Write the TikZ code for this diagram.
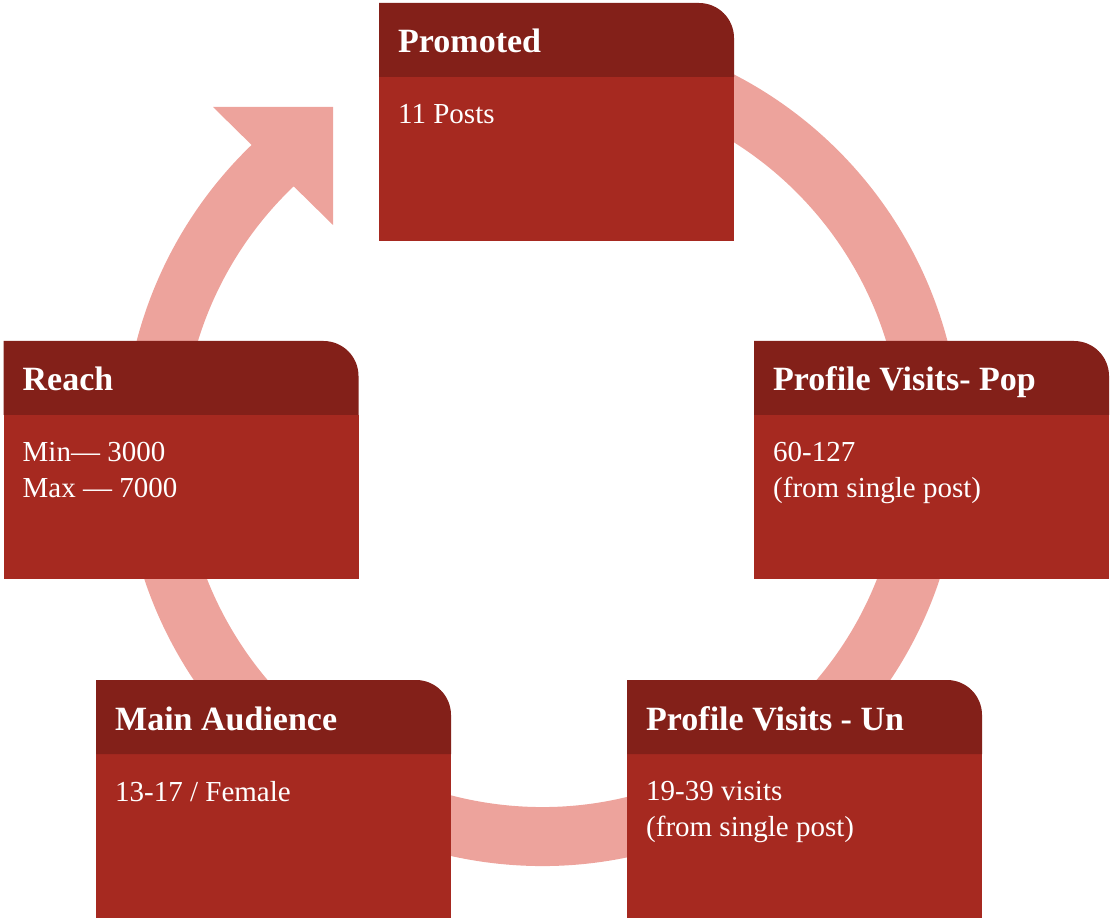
\documentclass[tikz,border=0pt]{standalone}
\usepackage{fontspec}
\setmainfont{Liberation Serif}
\definecolor{ringc}{RGB}{237,163,156}
\definecolor{headc}{RGB}{131,32,25}
\definecolor{bodyc}{RGB}{166,41,32}
\tikzset{
  headtext/.style={text=white,anchor=base west,inner sep=0pt,font=\bfseries\fontsize{34}{40}\selectfont},
  bodytext/.style={text=white,anchor=north west,inner sep=0pt,align=left,font=\fontsize{29}{35.7}\selectfont},
  ringstroke/.style={draw=ringc,line width=59pt},
}
% #1 name, #2 left x, #3 top y (pixel, from top), #4 title, #5 body
\newcommand\mycard[5]{%
  \begin{scope}[shift={(#2,919-#3)}]
    \fill[bodyc] (0,-74) rectangle (355,-238);
    \fill[headc] (0,-74) -- (0,0) -- (320,0) arc[start angle=90,end angle=0,radius=35] -- (355,-74) -- cycle;
    \node[headtext] (#1-title) at (19,-50) {#4};
    \node[bodytext] (#1-body) at (19,-101) {#5};
  \end{scope}}
\begin{document}
\begin{tikzpicture}[x=1pt,y=1pt]
\useasboundingbox (0,0) rectangle (1110,919);
\coordinate (c) at (542,472);
% ring with arrow
\draw[ringstroke] (c) ++(80:389.5) arc[start angle=80,end angle=-229,radius=389.5];
\coordinate (tip) at (333,812);
\coordinate (w1) at (213,812);
\coordinate (w2) at (333,694);
\fill[ringc] (w1) -- (tip) -- (w2) -- cycle;
% cards
\mycard{promoted}{379}{3}{Promoted}{11 Posts}
\mycard{reach}{3.5}{341}{Reach}{Min— 3000\\Max — 7000}
\mycard{pop}{754}{341}{Profile Visits- Pop}{60-127\\(from single post)}
\mycard{aud}{96}{680}{Main Audience}{13-17 / Female}
\mycard{un}{627}{680}{Profile Visits - Un}{19-39 visits\\(from single post)}
\end{tikzpicture}
\end{document}
